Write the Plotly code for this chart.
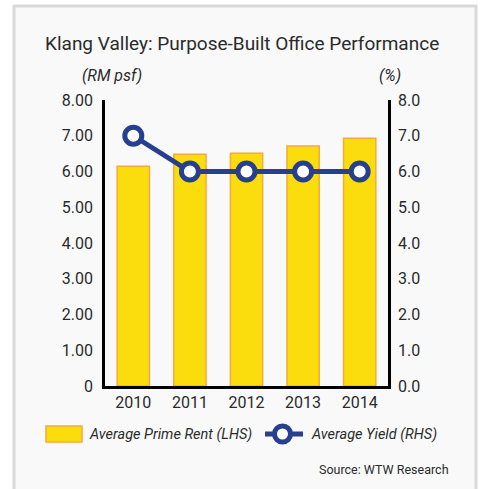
import plotly.graph_objects as go

years = ["2010", "2011", "2012", "2013", "2014"]
prime_rent = [6.15, 6.48, 6.51, 6.71, 6.93]
avg_yield = [7.0, 6.0, 6.0, 6.0, 6.0]
left_ticks = [0, 1, 2, 3, 4, 5, 6, 7, 8]
left_tick_text = ["0", "1.00", "2.00", "3.00", "4.00", "5.00", "6.00", "7.00", "8.00"]
right_tick_text = ["0.0", "1.0", "2.0", "3.0", "4.0", "5.0", "6.0", "7.0", "8.0"]

FONT = "Roboto, sans-serif"
NAVY = "#263f8e"
YELLOW = "#fbdc0c"
ORANGE = "#f7a93c"
TXT = "#2b2b2b"

fig = go.Figure()
fig.add_trace(go.Bar(
    x=years, y=prime_rent, name="Average Prime Rent (LHS)",
    marker=dict(color=YELLOW, line=dict(color=ORANGE, width=1.5)),
    width=0.57, yaxis="y", showlegend=False,
))
fig.add_trace(go.Scatter(
    x=years, y=avg_yield, name="Average Yield (RHS)", mode="lines+markers",
    line=dict(color=NAVY, width=5),
    marker=dict(size=17, color="white", line=dict(color=NAVY, width=5)),
    yaxis="y2", showlegend=False,
))

L, R, T, B = 105, 96, 100, 103
W, H = 484, 489
pw, ph = W - L - R, H - T - B

def px(x):
    return (x - L) / pw

def py(y):
    return (H - B - y) / ph

fig.update_layout(
    width=W, height=H,
    margin=dict(l=L, r=R, t=T, b=B, pad=0),
    paper_bgcolor="white", plot_bgcolor="#f9f9f9",
    font=dict(family=FONT, color=TXT, size=16),
    xaxis=dict(type="category", range=[-0.5, 4.5], showline=True, linecolor="black",
               linewidth=2.5, ticks="", showgrid=False, tickfont=dict(size=16),
               ticklabelstandoff=0, zeroline=False),
    yaxis=dict(range=[0, 8], tickvals=left_ticks, ticktext=left_tick_text, showline=True,
               linecolor="black", linewidth=2.5, ticks="", showgrid=False,
               zeroline=False, tickfont=dict(size=16), ticklabelstandoff=6),
    yaxis2=dict(range=[0, 8], tickvals=left_ticks, ticktext=right_tick_text, overlaying="y",
                side="right", showline=True, linecolor="black", linewidth=2.5, ticks="",
                showgrid=False, zeroline=False, tickfont=dict(size=16), ticklabelstandoff=4),
    showlegend=False,
)

shapes = [
    # frame
    dict(type="rect", xref="paper", yref="paper", x0=px(14), x1=px(476), y0=py(495), y1=py(6),
         line=dict(color="#d9d9d9", width=3), fillcolor="#f9f9f9", layer="below"),
    # legend: bar swatch
    dict(type="rect", xref="paper", yref="paper", x0=px(46), x1=px(82), y0=py(442), y1=py(426),
         line=dict(color=ORANGE, width=1.5), fillcolor=YELLOW),
    # legend: line
    dict(type="line", xref="paper", yref="paper", x0=px(265), x1=px(303), y0=py(434), y1=py(434),
         line=dict(color=NAVY, width=5)),
    dict(type="circle", xref="paper", yref="paper", x0=px(274.5), x1=px(290.5), y0=py(442), y1=py(426),
         line=dict(color=NAVY, width=5), fillcolor="white"),
]
fig.update_layout(shapes=shapes)

annotations = [
    dict(text="Klang Valley: Purpose-Built Office Performance", x=px(242), y=py(44),
         xref="paper", yref="paper", showarrow=False, font=dict(size=19, color=TXT),
         xanchor="center", yanchor="middle"),
    dict(text="<i>(RM psf)</i>", x=px(112), y=py(76), xref="paper", yref="paper",
         showarrow=False, font=dict(size=16), xanchor="center", yanchor="middle"),
    dict(text="<i>(%)</i>", x=px(390), y=py(76), xref="paper", yref="paper",
         showarrow=False, font=dict(size=16), xanchor="center", yanchor="middle"),
    dict(text="<i>Average Prime Rent (LHS)</i>", x=px(87), y=py(434), xref="paper", yref="paper",
         showarrow=False, font=dict(size=14.5), xanchor="left", yanchor="middle"),
    dict(text="<i>Average Yield (RHS)</i>", x=px(309), y=py(434), xref="paper", yref="paper",
         showarrow=False, font=dict(size=14.5), xanchor="left", yanchor="middle"),
    dict(text="Source: WTW Research", x=px(451), y=py(469), xref="paper", yref="paper",
         showarrow=False, font=dict(size=12.5), xanchor="right", yanchor="middle"),
]
fig.update_layout(annotations=annotations)

fig.write_html("out.html", config={"displayModeBar": False},
               post_script="document.body.style.margin='0';document.body.style.overflow='hidden';")
